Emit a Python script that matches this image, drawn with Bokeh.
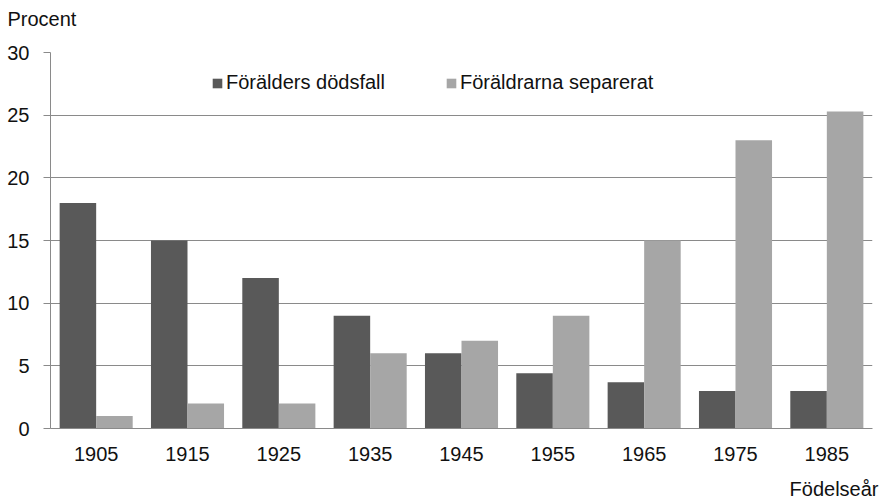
from bokeh.plotting import figure
from bokeh.models import ColumnDataSource, FactorRange, Range1d, Legend, LegendItem, Title, FixedTicker
from bokeh.transform import dodge
from bokeh.embed import file_html
from bokeh.resources import INLINE

years = ["1905", "1915", "1925", "1935", "1945", "1955", "1965", "1975", "1985"]
dodsfall = [18, 15, 12, 9, 6, 4.4, 3.7, 3, 3]
separerat = [1, 2, 2, 6, 7, 9, 15, 23, 25.3]
series_names = ["Förälders dödsfall", "Föräldrarna separerat"]
y_ticks = [0, 5, 10, 15, 20, 25, 30]
y_title = "Procent"
x_title = "Födelseår"

FONT = "Liberation Sans"
DARK = "#595959"
LIGHT = "#a6a6a6"
GRID = "#8a8a8a"
TXT = "#111111"
NBSP = "\u00a0"

src = ColumnDataSource(dict(year=years, d=dodsfall, s=separerat))

p = figure(width=883, height=504, output_backend="svg", toolbar_location=None,
           x_range=FactorRange(factors=years, range_padding=0),
           y_range=Range1d(0, 30),
           min_border_left=50, min_border_right=11, min_border_top=52, min_border_bottom=76)

r1 = p.vbar(x=dodge("year", -0.2, range=p.x_range), top="d", width=0.4, source=src,
            fill_color=DARK, line_color=None)
r2 = p.vbar(x=dodge("year", 0.2, range=p.x_range), top="s", width=0.4, source=src,
            fill_color=LIGHT, line_color=None)

p.outline_line_color = None
p.background_fill_color = "white"
p.border_fill_color = "white"

p.xgrid.grid_line_color = None
p.ygrid.grid_line_color = GRID
p.ygrid.grid_line_width = 1

p.yaxis.ticker = FixedTicker(ticks=y_ticks)
p.yaxis.axis_line_color = GRID
p.yaxis.major_tick_line_color = GRID
p.yaxis.major_tick_out = 7
p.yaxis.major_tick_in = 0
p.yaxis.minor_tick_line_color = None
p.yaxis.major_label_standoff = 14
p.yaxis.major_label_text_font = FONT
p.yaxis.major_label_text_font_size = "20px"
p.yaxis.major_label_text_color = TXT

p.xaxis.axis_line_color = GRID
p.xaxis.major_tick_line_color = None
p.xaxis.minor_tick_line_color = None
p.xaxis.major_label_standoff = 12
p.xaxis.major_label_text_font = FONT
p.xaxis.major_label_text_font_size = "20px"
p.xaxis.major_label_text_color = TXT

legend = Legend(items=[LegendItem(label=series_names[0], renderers=[r1]),
                       LegendItem(label=series_names[1], renderers=[r2])],
                orientation="horizontal", location=(161, 334),
                padding=0, margin=0, spacing=60, glyph_width=12, glyph_height=12,
                label_standoff=3, border_line_color=None, background_fill_alpha=0,
                label_text_font=FONT, label_text_font_size="20px", label_text_color=TXT)
p.add_layout(legend)

# axis titles as side-panel titles (an invisible spacer line lets them sit farther from the frame)
p.add_layout(Title(text=y_title + "\n" + NBSP, align="left", offset=-43, vertical_align="top",
                   standoff=-3, text_line_height=1.0,
                   text_font=FONT, text_font_size="20px", text_font_style="normal",
                   text_color=TXT), "above")
p.add_layout(Title(text=NBSP + "\n" + x_title, align="right", offset=-6, vertical_align="bottom",
                   standoff=-19, text_line_height=1.0,
                   text_font=FONT, text_font_size="20px", text_font_style="normal",
                   text_color=TXT), "below")

open("out.html", "w").write(file_html(p, INLINE))
